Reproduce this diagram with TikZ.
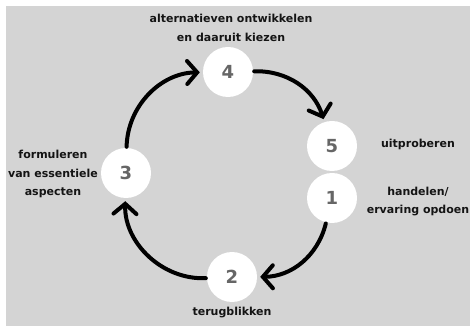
\documentclass[tikz,border=0pt]{standalone}
\usepackage{fontspec}
\setmainfont{DejaVu Sans}
\usetikzlibrary{arrows.meta}
\definecolor{bg}{HTML}{D4D4D4}
\definecolor{numgray}{HTML}{666666}
\definecolor{ink}{HTML}{141414}
\begin{document}
\begin{tikzpicture}[x=1pt,y=1pt,
  stage/.style={circle, fill=white, minimum size=50pt, inner sep=0pt,
    font=\fontsize{18}{18}\bfseries\selectfont, text=numgray},
  lbl/.style={align=center, font=\fontsize{11}{18.5}\bfseries\selectfont,
    text=ink, inner sep=0pt},
  cyc/.style={line width=4pt, line cap=round,
    -{Straight Barb[length=10pt,width=23pt,line cap=round]},
    shorten >=3pt, shorten <=1pt}
]
\useasboundingbox (0,0) rectangle (470,326);
\fill[white] (0,0) rectangle (470,326);
\fill[bg] (6,0) rectangle (470,320);

\node[stage] (n4) at (228,254) {4};
\node[stage] (n5) at (332,180) {5};
\node[stage] (n1) at (332,128) {1};
\node[stage] (n2) at (232,49) {2};
\node[stage] (n3) at (126,153) {3};

\draw[cyc] (n3) to[bend left=44] (n4);
\draw[cyc] (n4) to[bend left=37] (n5);
\draw[cyc] (n1) to[bend left=38] (n2);
\draw[cyc] (n2) to[bend left=47] (n3);

\node[lbl] (l4) at (231,298) {alternatieven ontwikkelen\\en daaruit kiezen};
\node[lbl] (l5) at (418,182) {uitproberen};
\node[lbl] (l1) at (418,124.5) {handelen/\\ervaring opdoen};
\node[lbl] (l3) at (53,152) {formuleren\\van essentiele\\aspecten};
\node[lbl] (l2) at (232,13) {terugblikken};
\end{tikzpicture}
\end{document}
